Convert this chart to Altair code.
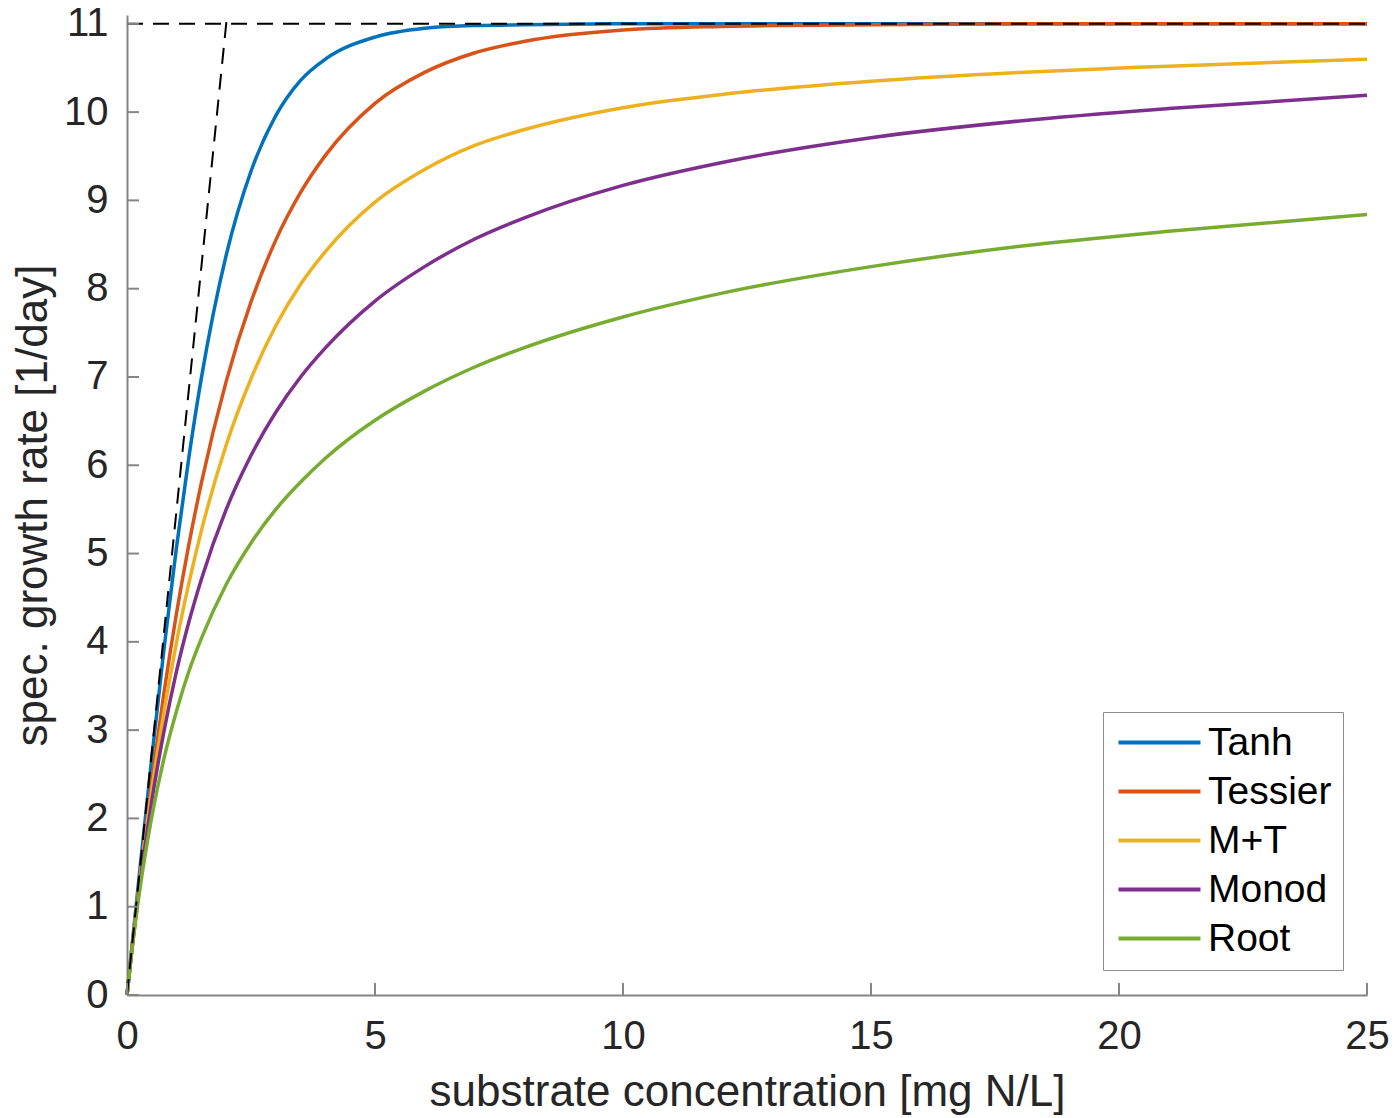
import altair as alt
import pandas as pd

# substrate concentration [mg N/L]
S = [0, 0.1, 0.25, 0.5, 0.75, 1, 1.25, 1.5, 2, 2.5, 3, 3.5, 4, 5, 6, 7, 8, 10, 12, 15, 18, 21, 25]
tanh_v = [0, 0.55, 1.37, 2.69, 3.94, 5.08, 6.10, 6.99, 8.38, 9.33, 9.96, 10.36, 10.60, 10.85, 10.95, 10.98, 10.99, 11.0, 11.0, 11.0, 11.0, 11.0, 11.0]
tessier_v = [0, 0.54, 1.29, 2.43, 3.44, 4.33, 5.11, 5.80, 6.95, 7.85, 8.55, 9.09, 9.51, 10.10, 10.45, 10.67, 10.80, 10.93, 10.97, 10.99, 11.0, 11.0, 11.0]
mt_v = [0, 0.53, 1.26, 2.32, 3.22, 4.00, 4.67, 5.26, 6.23, 6.98, 7.58, 8.05, 8.42, 8.98, 9.35, 9.62, 9.80, 10.05, 10.20, 10.35, 10.45, 10.52, 10.60]
monod_v = [0, 0.52, 1.22, 2.20, 3.00, 3.67, 4.23, 4.71, 5.50, 6.11, 6.60, 7.00, 7.33, 7.86, 8.25, 8.56, 8.80, 9.17, 9.43, 9.71, 9.90, 10.04, 10.19]
root_v = [0, 0.51, 1.16, 2.02, 2.69, 3.22, 3.67, 4.04, 4.65, 5.12, 5.50, 5.81, 6.08, 6.51, 6.84, 7.11, 7.33, 7.68, 7.95, 8.25, 8.48, 8.65, 8.84]

series_names = ["Tanh", "Tessier", "M+T", "Monod", "Root"]
series_colors = ["#0072BD", "#D95319", "#EDB120", "#7E2F8E", "#77AC30"]

# dashed guide lines: max rate and initial slope
guide_id = ["max", "max", "slope", "slope"]
guide_x = [0, 25, 0, 2.018]
guide_y = [11, 11, 0, 11.1]

x_ticks = [0, 5, 10, 15, 20, 25]
y_ticks = [0, 1, 2, 3, 4, 5, 6, 7, 8, 9, 10, 11]

rows = []
for name, vals in zip(series_names, [tanh_v, tessier_v, mt_v, monod_v, root_v]):
    for s, v in zip(S, vals):
        rows.append({"S": s, "mu": v, "model": name})
df = pd.DataFrame(rows)
guides = pd.DataFrame({"id": guide_id, "S": guide_x, "mu": guide_y})
xt = pd.DataFrame({"v": x_ticks})
yt = pd.DataFrame({"v": y_ticks})

FONT = "Liberation Sans"
AXIS_GREY = "#858585"
TEXT = "#262626"

xscale = alt.Scale(domain=[0, 25], nice=False, zero=False)
yscale = alt.Scale(domain=[0, 11.1], nice=False, zero=False)

curves = alt.Chart(df).mark_line(strokeWidth=3.5, interpolate="monotone").encode(
    x=alt.X("S:Q", scale=xscale,
            axis=alt.Axis(title="substrate concentration [mg N/L]", values=x_ticks,
                          format="d",
                          ticks=False, grid=False, labelPadding=21, titlePadding=14,
                          domainColor=AXIS_GREY, domainWidth=2, labelFontSize=40,
                          titleFontSize=44, labelColor=TEXT, titleColor=TEXT,
                          labelFont=FONT, titleFont=FONT, titleFontWeight="normal",
                          labelFlush=False)),
    y=alt.Y("mu:Q", scale=yscale,
            axis=alt.Axis(title="spec. growth rate [1/day]", values=y_ticks,
                          format="d",
                          ticks=False, grid=False, labelPadding=19, titlePadding=8,
                          domainColor=AXIS_GREY, domainWidth=2, labelFontSize=40,
                          titleFontSize=44, labelColor=TEXT, titleColor=TEXT,
                          labelFont=FONT, titleFont=FONT, titleFontWeight="normal",
                          labelFlush=False)),
    color=alt.Color("model:N",
                    scale=alt.Scale(domain=series_names, range=series_colors),
                    legend=alt.Legend(orient="none", legendX=976, legendY=697, title=None,
                                      symbolType="M-4,0H4", symbolSize=420,
                                      symbolStrokeWidth=4, labelFontSize=39,
                                      labelFont=FONT, labelColor="black",
                                      labelOffset=29, symbolOffset=26, padding=11,
                                      rowPadding=9, strokeColor="#8c8c8c",
                                      fillColor="white")),
    order=alt.Order("S:Q"),
)

dashed = alt.Chart(guides).mark_line(color="black", strokeWidth=2, strokeDash=[16, 10]).encode(
    x=alt.X("S:Q", scale=xscale),
    y=alt.Y("mu:Q", scale=yscale),
    detail="id:N",
)

ytick_marks = alt.Chart(yt).mark_rule(color=AXIS_GREY, strokeWidth=2).encode(
    y=alt.Y("v:Q", scale=yscale),
    x=alt.value(0),
    x2=alt.value(12),
)
xtick_marks = alt.Chart(xt).mark_rule(color=AXIS_GREY, strokeWidth=2).encode(
    x=alt.X("v:Q", scale=xscale),
    y=alt.value(980),
    y2=alt.value(968),
)

chart = alt.layer(curves, dashed, ytick_marks, xtick_marks).properties(
    width=1240, height=980,
    autosize=alt.AutoSizeParams(type="none"),
    padding={"left": 127, "top": 15, "right": 31, "bottom": 123},
    background="white",
).configure_view(stroke=None)

chart.save("out.html", embed_options={"renderer": "svg", "actions": False})
